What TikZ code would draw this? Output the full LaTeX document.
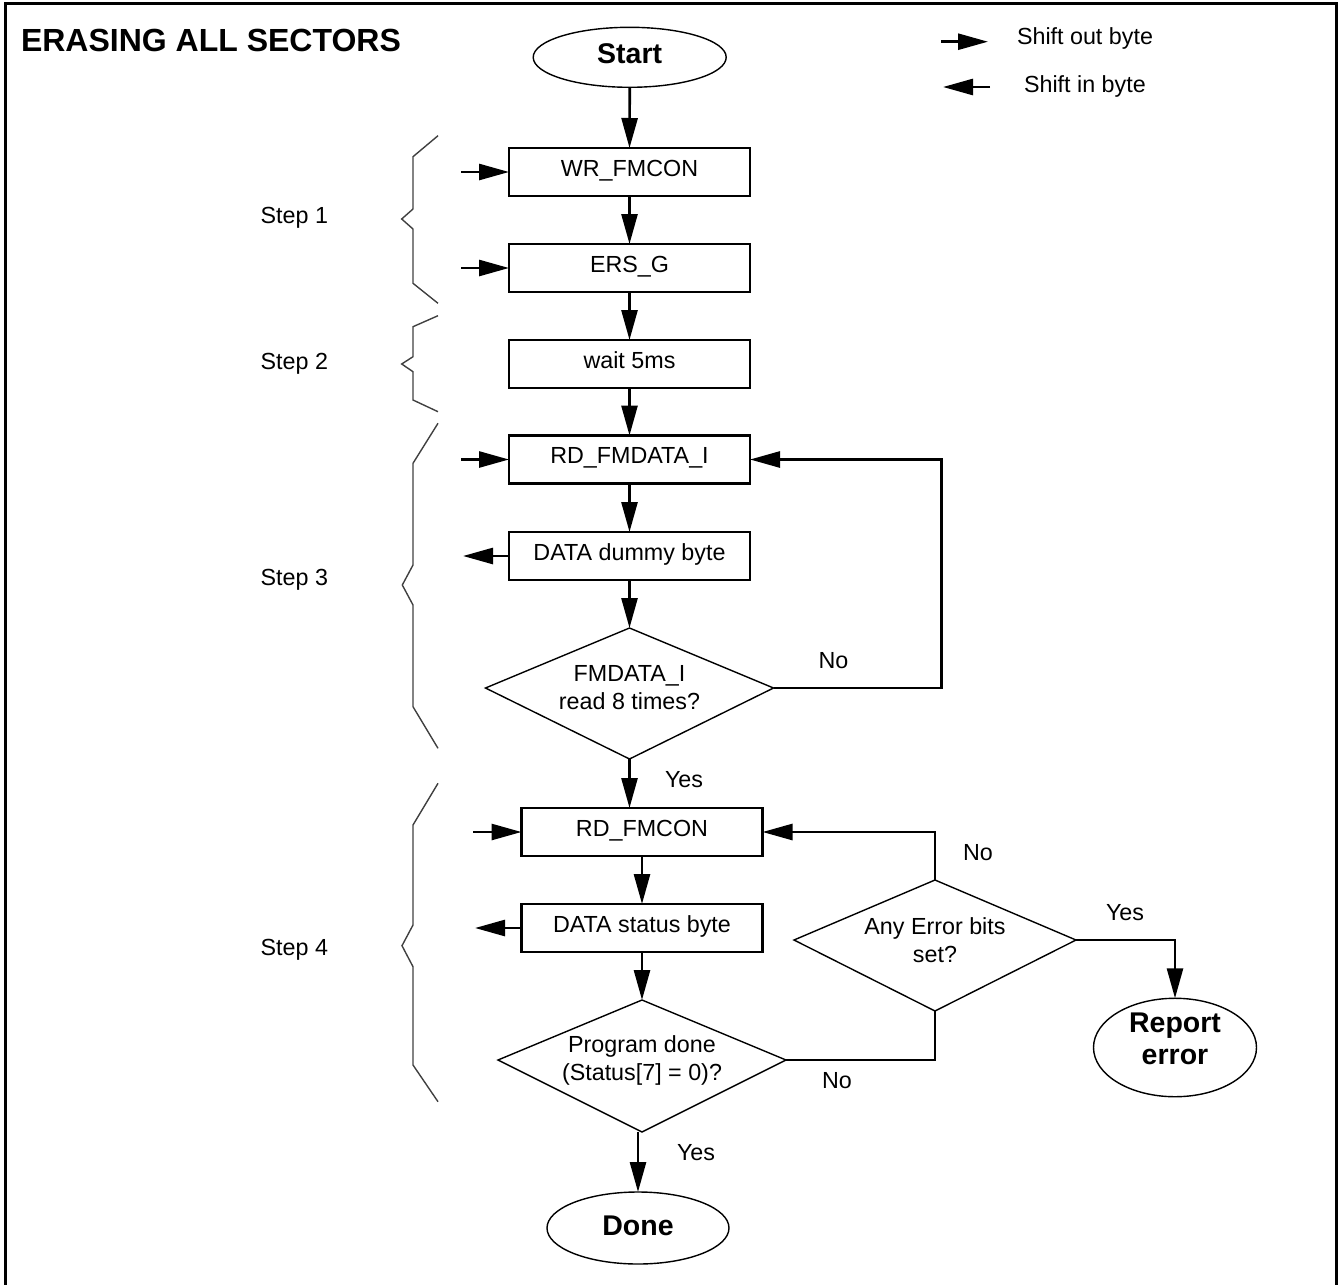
\documentclass[tikz,border=0pt]{standalone}
\usepackage{fontspec}
\setmainfont{Liberation Sans}
\usetikzlibrary{arrows.meta,shapes.geometric}
\begin{document}
\begin{tikzpicture}[x=1pt,y=-1pt,
  every node/.style={inner sep=0pt,outer sep=0pt},
  conn/.style={line width=2.7pt},
  arr/.style={line width=2.7pt,-{Triangle[length=30pt,width=16pt]}},
  stepbox/.style={draw,line width=2.7pt,minimum width=241pt,minimum height=48pt,
    font=\fontsize{23.3}{28}\selectfont,text height=16.7pt,text depth=8pt},
  term/.style={draw,ellipse,line width=1.4pt,font=\bfseries\fontsize{28.5}{32}\selectfont},
  dtext/.style={font=\fontsize{23.3}{28}\selectfont,align=center},
  dline/.style={line width=1.4pt},
  lbl/.style={font=\fontsize{23.3}{28}\selectfont,text height=16.7pt,text depth=0pt},
  brace/.style={line width=1.4pt,draw=black!75,line join=miter}
]
\useasboundingbox (0,0) rectangle (1339,1285);
% frame
\draw[line width=3pt] (5,1290) -- (5,3) -- (1336,3) -- (1336,1290);
% title
\node[anchor=west,font=\bfseries\fontsize{32}{36}\selectfont,text height=22.9pt,text depth=0pt] (title) at (21,40) {ERASING ALL SECTORS};
% legend
\coordinate (lo1) at (941,41.7);
\coordinate (lo2) at (988,41.7);
\coordinate (li1) at (990,87);
\coordinate (li2) at (943,87);
\draw[arr] (lo1) -- (lo2);
\draw[arr] (li1) -- (li2);
\node[lbl,anchor=west] (legout) at (1017,36) {Shift out byte};
\node[lbl,anchor=west] (legin) at (1024,84) {Shift in byte};
% terminals
\node[term,minimum width=193pt,minimum height=60pt,text height=20.4pt,text depth=8pt] (start) at (629.7,57.3) {Start};
\node[term,minimum width=182pt,minimum height=72pt,text height=20.4pt,text depth=5pt] (done) at (638,1228) {Done};
\node[term,minimum width=163pt,minimum height=95pt,align=center] (rep) at (1175,1047.5) {Report\\error\rule[-18pt]{0pt}{18pt}};
% boxes
\node[stepbox] (wr) at (629.5,172) {WR\_FMCON};
\node[stepbox] (ers) at (629.5,268) {ERS\_G};
\node[stepbox] (wait) at (629.5,364) {wait 5ms};
\node[stepbox] (rdf) at (629.5,459.5) {RD\_FMDATA\_I};
\node[stepbox] (dd) at (629.5,556) {DATA dummy byte};
\node[stepbox] (rdc) at (642,832) {RD\_FMCON};
\node[stepbox] (ds) at (642,928) {DATA status byte};
% diamonds
\node[dtext] (fm) at (629.5,688) {FMDATA\_I\\read 8 times?};
\coordinate (fmN) at (629.5,628);
\coordinate (fmE) at (773.5,688);
\coordinate (fmS) at (629.5,759);
\coordinate (fmW) at (485.5,688);
\draw[dline] (fmN) -- (fmE) -- (fmS) -- (fmW) -- cycle;
\node[dtext] (ae) at (935,940) {Any Error bits\\set?};
\coordinate (aeN) at (935,880);
\coordinate (aeE) at (1076,940);
\coordinate (aeS) at (935,1011);
\coordinate (aeW) at (794,940);
\draw[dline] (aeN) -- (aeE) -- (aeS) -- (aeW) -- cycle;
\node[dtext] (pd) at (642,1060) {Program done\\(Status[7] = 0)?};
\coordinate (pdN) at (642,1000);
\coordinate (pdE) at (786,1060);
\coordinate (pdS) at (642,1132);
\coordinate (pdW) at (498,1060);
\draw[dline] (pdN) -- (pdE) -- (pdS) -- (pdW) -- cycle;
% main flow
\draw[arr] (start.south) -- (wr.north);
\draw[arr] (wr.south) -- (ers.north);
\draw[arr] (ers.south) -- (wait.north);
\draw[arr] (wait.south) -- (rdf.north);
\draw[arr] (rdf.south) -- (dd.north);
\draw[arr] (dd.south) -- (fmN);
\draw[arr] (fmS) -- (fmS |- rdc.north);
\draw[arr] (rdc.south) -- (ds.north);
\draw[arr] (ds.south) -- (pdN);
\draw[arr] (done.north |- pdS) -- (done.north);
% loops
\coordinate (fmR) at (941.7,688);
\draw[arr] (fmE) -- (fmR) |- (rdf.east);
\draw[arr] (aeN) |- (rdc.east);
\draw[conn] (pdE) -| (aeS);
\coordinate (aeR) at (1175,940);
\draw[arr] (aeE) -- (aeR) -- (rep.north);
% shift arrows
\coordinate (wrIn) at (461,172);
\coordinate (ersIn) at (461,268);
\coordinate (rdfIn) at (461,459.5);
\coordinate (ddOut) at (463,556);
\coordinate (rdcIn) at (473,832);
\coordinate (dsOut) at (475,928);
\draw[arr] (wrIn) -- (wr.west);
\draw[arr] (ersIn) -- (ers.west);
\draw[arr] (rdfIn) -- (rdf.west);
\draw[arr] (dd.west) -- (ddOut);
\draw[arr] (rdcIn) -- (rdc.west);
\draw[arr] (ds.west) -- (dsOut);
% labels
\node[lbl] (no1) at (833.5,660) {No};
\node[lbl] (yes1) at (684,779) {Yes};
\node[lbl] (no2) at (978,852) {No};
\node[lbl] (yes2) at (1125,912) {Yes};
\node[lbl] (no3) at (837,1080) {No};
\node[lbl] (yes3) at (696,1152) {Yes};
% braces
\draw[brace] (438,135.7) -- (413,156.7) -- (413,209) -- (401.7,219) -- (413,229) -- (413,283.3) -- (438,303.3);
\draw[brace] (438,315.7) -- (413,326.7) -- (413,356.7) -- (401.7,364) -- (413,371.7) -- (413,400) -- (438,411.7);
\draw[brace] (438,423.3) -- (413,463.3) -- (413,565) -- (402.3,585) -- (413,605) -- (413,706.7) -- (438,748.3);
\draw[brace] (438,783.3) -- (413,825) -- (413,925) -- (402,945.7) -- (413,966.7) -- (413,1065) -- (438,1101.7);
\node[lbl,anchor=west] (s1) at (260.7,215) {Step 1};
\node[lbl,anchor=west] (s2) at (260.7,361) {Step 2};
\node[lbl,anchor=west] (s3) at (260.7,577) {Step 3};
\node[lbl,anchor=west] (s4) at (260.7,947) {Step 4};
\end{tikzpicture}
\end{document}
